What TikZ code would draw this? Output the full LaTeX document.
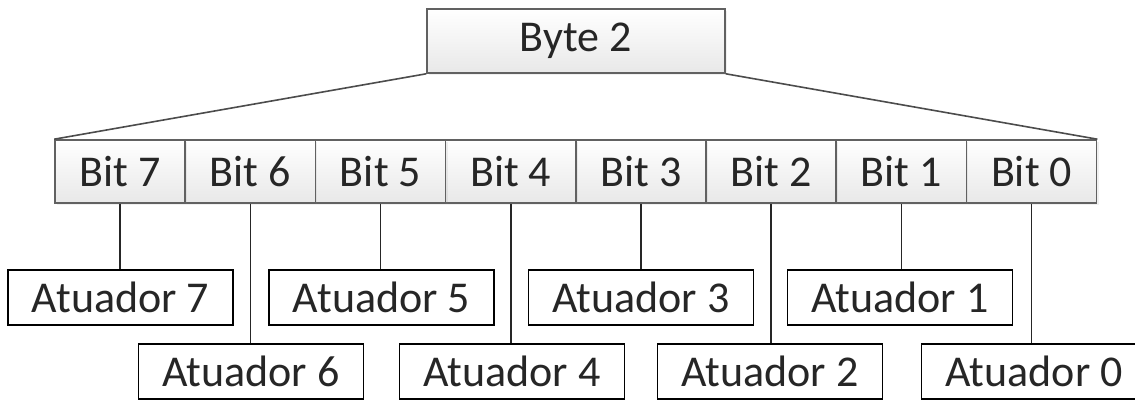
\documentclass[tikz,border=0pt]{standalone}
\usepackage{fontspec}
\setmainfont{Carlito}
\usetikzlibrary{shadows}
\begin{document}
\begin{tikzpicture}[x=1pt,y=-1pt,
  bitbox/.style={draw=black!62, line width=1.6pt, top color=white, bottom color=black!9,
    minimum width=130.2pt, minimum height=63pt, inner sep=0pt,
    font=\fontsize{44}{48}\selectfont, text=black!85,
    drop shadow={shadow xshift=2pt, shadow yshift=-2pt, opacity=0.12}},
  actbox/.style={draw=black, line width=1.8pt, fill=white,
    minimum width=225pt, minimum height=55pt, inner sep=0pt,
    font=\fontsize{44}{48}\selectfont, text=black!85},
  wire/.style={draw=black!85, line width=1.6pt}]
\useasboundingbox (0,0) rectangle (1135,401);

% byte header
\node[bitbox, minimum width=298pt, minimum height=64pt] (byte) at (576,41) {Byte 2};

% bit cells, left to right from bit 7 down to bit 0
\foreach \i in {0,...,7} {
  \node[bitbox] (b\i) at ({55+65.1+130.2*(7-\i)},171.5) {Bit \i};
}

% fan-out from the byte to the bit row
\draw[wire, draw=black!70] (byte.south west) -- (b7.north west);
\draw[wire, draw=black!70] (byte.south east) -- (b0.north east);

% actuators: odd bits on the upper row, even bits on the lower row
\node[actbox] (a7) at (120.5,297.5) {Atuador 7};
\node[actbox] (a5) at (381.5,297.5) {Atuador 5};
\node[actbox] (a3) at (641,297.5) {Atuador 3};
\node[actbox] (a1) at (900,297.5) {Atuador 1};
\node[actbox] (a6) at (251,371.5) {Atuador 6};
\node[actbox] (a4) at (512,371.5) {Atuador 4};
\node[actbox] (a2) at (770,371.5) {Atuador 2};
\node[actbox] (a0) at (1034,371.5) {Atuador 0};

\foreach \i in {0,...,7} {
  \draw[wire] (b\i.south) -- (b\i.south |- a\i.north);
}
\end{tikzpicture}
\end{document}
